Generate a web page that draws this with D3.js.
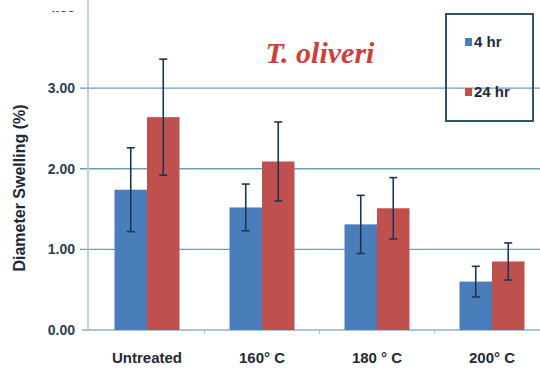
<!DOCTYPE html>
<html><head><meta charset="utf-8">
<script src="https://cdn.jsdelivr.net/npm/d3@7/dist/d3.min.js"></script>
<style>body{margin:0;background:#fff}svg{display:block}</style>
</head><body>
<svg id="c" width="540" height="374"></svg>
<script>
const categories = ["Untreated", "160° C", "180 ° C", "200° C"];
const series = ["4 hr", "24 hr"];
const values4 = [1.74, 1.52, 1.31, 0.60];
const values24 = [2.64, 2.09, 1.51, 0.85];
const err4 = [0.52, 0.29, 0.36, 0.19];
const err24 = [0.72, 0.49, 0.38, 0.23];
const yTicks = [0, 1, 2, 3, 4];
const colors = ["#4a7ebb", "#c0504d"];

const svg = d3.select("#c");
const x = d3.scaleBand().domain(categories).range([89.5, 549.5]);
const y = d3.scaleLinear().domain([0, 4]).range([330, 7.5]);
const barW = 32.5;

// gridlines
svg.append("g").selectAll("line").data(yTicks.filter(d => d > 0 && d < 4)).join("line")
  .attr("x1", 80).attr("x2", 540).attr("y1", d => y(d)).attr("y2", d => y(d))
  .attr("stroke", "#6f9bbd").attr("stroke-width", 1.3);

// axes lines
svg.append("line").attr("x1", 88).attr("x2", 88).attr("y1", 0).attr("y2", y(0))
  .attr("stroke", "#a9c2d6").attr("stroke-width", 1.5);
svg.append("line").attr("x1", 82).attr("x2", 540).attr("y1", y(0)).attr("y2", y(0))
  .attr("stroke", "#8fb0c8").attr("stroke-width", 1.3);
svg.append("g").selectAll("line").data(categories.slice(1)).join("line")
  .attr("x1", d => x(d)).attr("x2", d => x(d)).attr("y1", y(0)).attr("y2", y(0) + 4)
  .attr("stroke", "#a9c2d6").attr("stroke-width", 1);

// y tick labels
svg.append("defs").append("clipPath").attr("id", "clipTop")
  .append("rect").attr("x", 0).attr("y", 11).attr("width", 100).attr("height", 374);
svg.append("g").attr("clip-path", "url(#clipTop)").selectAll("text").data(yTicks).join("text")
  .attr("x", 75).attr("y", d => y(d)).attr("dy", "0.35em").attr("text-anchor", "end")
  .attr("font-family", "Liberation Sans, Arial, sans-serif").attr("font-weight", "bold")
  .attr("font-size", 14).attr("fill", "#2b3f52")
  .text(d => d3.format(".2f")(d));

// y axis title
svg.append("text").attr("transform", "translate(25,188) rotate(-90)")
  .attr("text-anchor", "middle").attr("font-family", "Liberation Sans, Arial, sans-serif")
  .attr("font-weight", "bold").attr("font-size", 16).attr("fill", "#1f2a36")
  .text("Diameter Swelling (%)");

// x labels
svg.append("g").selectAll("text").data(categories).join("text")
  .attr("x", d => x(d) + x.bandwidth() / 2).attr("y", 363).attr("text-anchor", "middle")
  .attr("font-family", "Liberation Sans Narrow, Liberation Sans, Arial, sans-serif")
  .attr("font-weight", "bold").attr("font-size", 15).attr("fill", "#1f2a36")
  .text(d => d);

// bars
const data = [];
categories.forEach((c, i) => {
  data.push({c, s: 0, v: values4[i], e: err4[i]});
  data.push({c, s: 1, v: values24[i], e: err24[i]});
});
const cx = d => x(d.c) + x.bandwidth() / 2 + (d.s === 0 ? -barW : 0);
svg.append("g").selectAll("rect").data(data).join("rect")
  .attr("x", cx).attr("width", barW)
  .attr("y", d => y(d.v)).attr("height", d => y(0) - y(d.v))
  .attr("fill", d => colors[d.s]);

// error bars
const eg = svg.append("g").attr("stroke", "#1c3552").attr("stroke-width", 1.6);
eg.selectAll("line.v").data(data).join("line").attr("class", "v")
  .attr("x1", d => cx(d) + barW / 2).attr("x2", d => cx(d) + barW / 2)
  .attr("y1", d => y(d.v + d.e)).attr("y2", d => y(d.v - d.e));
eg.selectAll("line.t").data(data).join("line").attr("class", "t")
  .attr("x1", d => cx(d) + barW / 2 - 4).attr("x2", d => cx(d) + barW / 2 + 4)
  .attr("y1", d => y(d.v + d.e)).attr("y2", d => y(d.v + d.e));
eg.selectAll("line.b").data(data).join("line").attr("class", "b")
  .attr("x1", d => cx(d) + barW / 2 - 4).attr("x2", d => cx(d) + barW / 2 + 4)
  .attr("y1", d => y(d.v - d.e)).attr("y2", d => y(d.v - d.e));

// title
svg.append("text").attr("x", 320).attr("y", 63).attr("text-anchor", "middle")
  .attr("font-family", "Liberation Serif, Times New Roman, serif").attr("font-style", "italic")
  .attr("font-weight", "bold").attr("font-size", 30).attr("fill", "#d0403a")
  .text("T. oliveri");

// legend
const lg = svg.append("g");
lg.append("rect").attr("x", 446).attr("y", 14).attr("width", 87).attr("height", 107)
  .attr("fill", "none").attr("stroke", "#2e5470").attr("stroke-width", 2);
series.forEach((s, i) => {
  const ly = 42 + i * 50;
  lg.append("rect").attr("x", 465).attr("y", ly - 4).attr("width", 7).attr("height", 8)
    .attr("fill", colors[i]);
  lg.append("text").attr("x", 474).attr("y", ly).attr("dy", "0.35em")
    .attr("font-family", "Liberation Sans Narrow, Liberation Sans, Arial, sans-serif")
    .attr("font-weight", "bold").attr("font-size", 15).attr("fill", "#1f2a36")
    .text(s);
});
</script>
</body></html>
